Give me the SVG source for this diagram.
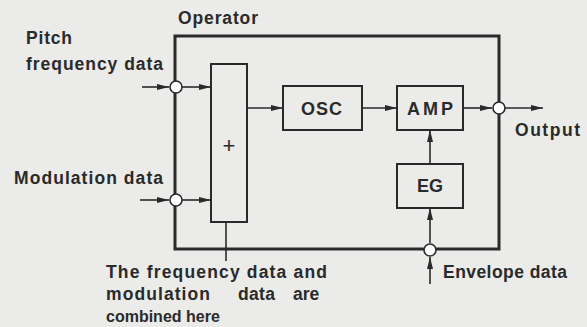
<svg xmlns="http://www.w3.org/2000/svg" width="587" height="327" viewBox="0 0 587 327">
<style>
  .t { font-family: "Liberation Sans", Arial, sans-serif; font-weight: bold; font-size: 17.5px; fill: #2a2a2a; }
  .b { font-size: 18px; }
  .box { fill: none; stroke: #2a2a2a; stroke-width: 2; }
  .frame { fill: none; stroke: #2a2a2a; stroke-width: 3; }
  .ln { fill: none; stroke: #2a2a2a; stroke-width: 1.6; }
  .port { fill: #ffffff; stroke: #2a2a2a; stroke-width: 1.6; }
</style>
<defs>
  <marker id="ah" viewBox="0 0 12 8" refX="12" refY="4" markerWidth="12" markerHeight="8" markerUnits="userSpaceOnUse" orient="auto">
    <path d="M0,1 L12,4 L0,7 Z" fill="#2a2a2a"/>
  </marker>
</defs>
<rect width="587" height="327" fill="#ebebe9"/>

<g id="operator">
  <rect class="frame" x="175" y="36" width="324" height="213"/>
  <text class="t" x="178" y="24" textLength="80" lengthAdjust="spacing">Operator</text>
</g>

<g id="adder">
  <rect class="box" x="211" y="64" width="36" height="158"/>
  <text class="t" x="229" y="153" text-anchor="middle" style="font-size:22px;font-weight:normal">+</text>
</g>

<g id="osc">
  <rect class="box" x="283" y="86" width="79" height="44"/>
  <text class="t b" x="301" y="115" textLength="41" lengthAdjust="spacing">OSC</text>
</g>

<g id="amp">
  <rect class="box" x="397" y="86" width="66" height="44"/>
  <text class="t b" x="407" y="115" textLength="46" lengthAdjust="spacing">AMP</text>
</g>

<g id="eg">
  <rect class="box" x="397" y="164" width="66" height="44"/>
  <text class="t b" x="417" y="192" textLength="26" lengthAdjust="spacing">EG</text>
</g>

<g id="connectors">
  <line class="ln" x1="142" y1="87" x2="169" y2="87" marker-end="url(#ah)"/>
  <line class="ln" x1="182" y1="87" x2="211" y2="87" marker-end="url(#ah)"/>
  <line class="ln" x1="140" y1="200" x2="169" y2="200" marker-end="url(#ah)"/>
  <line class="ln" x1="182" y1="200" x2="211" y2="200" marker-end="url(#ah)"/>
  <line class="ln" x1="247" y1="108" x2="283" y2="108" marker-end="url(#ah)"/>
  <line class="ln" x1="362" y1="108" x2="397" y2="108" marker-end="url(#ah)"/>
  <line class="ln" x1="463" y1="108" x2="492" y2="108" marker-end="url(#ah)"/>
  <line class="ln" x1="505" y1="108" x2="543" y2="108" marker-end="url(#ah)"/>
  <line class="ln" x1="430" y1="164" x2="430" y2="130" marker-end="url(#ah)"/>
  <line class="ln" x1="430" y1="243" x2="430" y2="208" marker-end="url(#ah)"/>
  <line class="ln" x1="430" y1="284" x2="430" y2="257" marker-end="url(#ah)"/>
  <line class="ln" x1="226" y1="222" x2="226" y2="261"/>
</g>

<g id="ports">
  <circle class="port" cx="176" cy="87" r="6"/>
  <circle class="port" cx="176" cy="200" r="6"/>
  <circle class="port" cx="499" cy="108" r="6"/>
  <circle class="port" cx="430" cy="250" r="6"/>
</g>

<g id="labels">
  <text class="t" x="26" y="44" textLength="46" lengthAdjust="spacing">Pitch</text>
  <text class="t" x="26" y="70" textLength="137" lengthAdjust="spacing">frequency data</text>
  <text class="t" x="14" y="184" textLength="149" lengthAdjust="spacing">Modulation data</text>
  <text class="t" x="515" y="136" textLength="65" lengthAdjust="spacing">Output</text>
  <text class="t" x="443" y="278" textLength="124" lengthAdjust="spacing">Envelope data</text>
  <text class="t" x="106" y="278" textLength="221" lengthAdjust="spacing">The frequency data and</text>
  <text class="t" y="300"><tspan x="106" textLength="104" lengthAdjust="spacing">modulation</tspan><tspan x="238" textLength="37" lengthAdjust="spacing">data</tspan><tspan x="293">are</tspan></text>
  <text class="t" x="106" y="322" style="font-size:16px">combined here</text>
</g>
</svg>
